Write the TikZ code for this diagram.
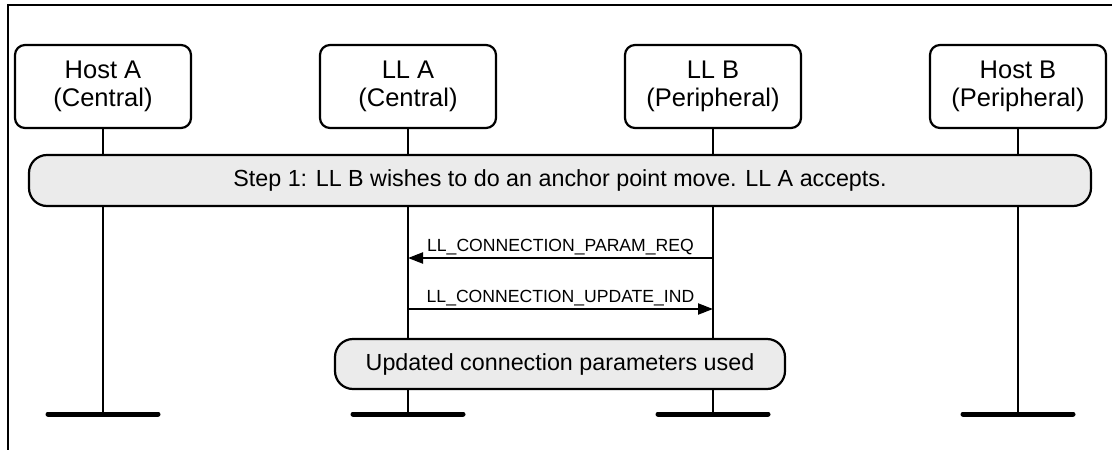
\documentclass[tikz,border=0pt]{standalone}
\usepackage{fontspec}
\setmainfont{Liberation Sans}
\usetikzlibrary{arrows.meta}
\begin{document}
\begin{tikzpicture}[x=1pt,y=-1pt,
  entity/.style={draw,line width=2.2pt,rounded corners=10pt,minimum width=176pt,minimum height=83pt,align=center,inner sep=0pt,font=\fontsize{25.5}{28.5}\selectfont},
  pill/.style={draw,line width=2.2pt,rounded corners=18pt,fill=black!8,inner sep=0pt,font=\fontsize{23.3}{27}\selectfont},
  life/.style={line width=2.2pt},
  foot/.style={line width=5pt,line cap=round},
  msg/.style={line width=2.2pt,-{Triangle[length=15pt,width=11pt]}},
  msglabel/.style={font=\fontsize{17.6}{20}\selectfont,inner sep=2pt}
]
\useasboundingbox (0,0) rectangle (1112,450);
% frame
\draw[line width=2.2pt] (8,450) -- (8,5) -- (1112,5);
% entities
\node[entity] (hA) at (103,86.5) {Host A\\(Central)};
\node[entity] (lA) at (408,86.5) {LL A\\(Central)};
\node[entity] (lB) at (713,86.5) {LL B\\(Peripheral)};
\node[entity] (hB) at (1018,86.5) {Host B\\(Peripheral)};
% lifeline ends
\coordinate (ehA) at (103,414);
\coordinate (elA) at (408,414);
\coordinate (elB) at (713,414);
\coordinate (ehB) at (1018,414);
\draw[life] (hA.south) -- (ehA);
\draw[life] (lA.south) -- (elA);
\draw[life] (lB.south) -- (elB);
\draw[life] (hB.south) -- (ehB);
\foreach \e in {ehA,elA,elB,ehB}{
  \draw[foot] ([xshift=-55pt]\e) -- ([xshift=55pt]\e);
}
% step bar
\node[pill,minimum width=1062pt,minimum height=51pt] (step) at (560,180.5) {Step 1: LL B wishes to do an anchor point move. LL A accepts.};
% messages
\coordinate (m1s) at (713,258);
\coordinate (m1e) at (408,258);
\coordinate (m2s) at (408,309);
\coordinate (m2e) at (713,309);
\draw[msg] (m1s) -- node[msglabel,above] (l1) {LL\_CONNECTION\_PARAM\_REQ} (m1e);
\draw[msg] (m2s) -- node[msglabel,above] (l2) {LL\_CONNECTION\_UPDATE\_IND} (m2e);
% updated
\node[pill,minimum width=450pt,minimum height=50pt] (upd) at (560,364) {Updated connection parameters used};
\end{tikzpicture}
\end{document}
